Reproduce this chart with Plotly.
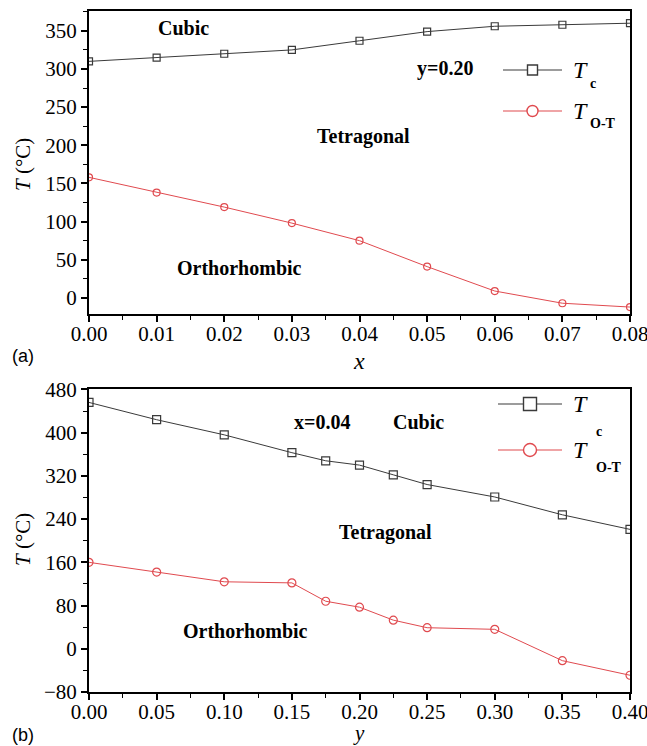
import plotly.graph_objects as go
from plotly.subplots import make_subplots

# Panel (a): transition temperatures vs x at fixed y = 0.20
x_a = [0.00, 0.01, 0.02, 0.03, 0.04, 0.05, 0.06, 0.07, 0.08]
tc_a = [310, 315, 320, 325, 337, 349, 356, 358, 360]
tot_a = [158, 138, 119, 98, 75, 41, 9, -7, -12]

# Panel (b): transition temperatures vs y at fixed x = 0.04
y_b = [0.00, 0.05, 0.10, 0.15, 0.175, 0.20, 0.225, 0.25, 0.30, 0.35, 0.40]
tc_b = [456, 424, 396, 363, 348, 340, 322, 304, 281, 248, 221]
tot_b = [160, 142, 124, 122, 88, 77, 53, 39, 36, -22, -49]

xticks_a = [0.00, 0.01, 0.02, 0.03, 0.04, 0.05, 0.06, 0.07, 0.08]
yticks_a = [0, 50, 100, 150, 200, 250, 300, 350]
xticks_b = [0.00, 0.05, 0.10, 0.15, 0.20, 0.25, 0.30, 0.35, 0.40]
yticks_b = [-80, 0, 80, 160, 240, 320, 400, 480]

BLACK = "#3a3a3a"
RED = "#e04a4f"
SERIF = "Liberation Serif, Times New Roman, serif"
SANS = "Liberation Sans, Arial, sans-serif"

W, H = 647, 746
ML, MR, MT, MB = 89, 17, 11, 54
PW, PH = W - ML - MR, H - MT - MB


def px(X):
    """pixel column -> paper x"""
    return (X - ML) / PW


def py(Y):
    """pixel row -> paper y"""
    return (H - MB - Y) / PH


fig = make_subplots(rows=2, cols=1, vertical_spacing=0.1115)


def add_pair(xs, tc, tot, row, msize):
    fig.add_trace(go.Scatter(
        x=xs, y=tc, mode="lines+markers", name="Tc", showlegend=False,
        line=dict(color=BLACK, width=1),
        marker=dict(symbol="square-open", size=msize, color=BLACK, line=dict(width=1.2))),
        row=row, col=1)
    fig.add_trace(go.Scatter(
        x=xs, y=tot, mode="lines+markers", name="TO-T", showlegend=False,
        line=dict(color=RED, width=1),
        marker=dict(symbol="circle-open", size=msize, color=RED, line=dict(width=1.2))),
        row=row, col=1)


add_pair(x_a, tc_a, tot_a, 1, 7)
add_pair(y_b, tc_b, tot_b, 2, 8)

minor_style = dict(ticks="outside", ticklen=4, tickcolor="black", tickwidth=1.2)
axis_common = dict(
    showline=True, linecolor="black", linewidth=2, mirror=True,
    ticks="outside", ticklen=6, tickwidth=1.5, tickcolor="black",
    showgrid=False, zeroline=False, ticklabeloverflow="allow", automargin=False,
    tickfont=dict(family=SERIF, size=21, color="black"),
)

fig.update_xaxes(axis_common, row=1, col=1, range=[0, 0.08], tickvals=xticks_a,
                 ticktext=[f"{v:.2f}" for v in xticks_a], ticklabelstandoff=-6,
                 minor=dict(minor_style, dtick=0.005))
fig.update_yaxes(axis_common, row=1, col=1, range=[-20.5, 376], tickvals=yticks_a,
                 minor=dict(minor_style, dtick=25, tick0=0))
fig.update_xaxes(axis_common, row=2, col=1, range=[0, 0.40], tickvals=xticks_b,
                 ticktext=[f"{v:.2f}" for v in xticks_b], ticklabelstandoff=-6,
                 minor=dict(minor_style, dtick=0.025))
fig.update_yaxes(axis_common, row=2, col=1, range=[-80, 480], tickvals=yticks_b,
                 minor=dict(minor_style, dtick=40, tick0=0))


def label(text, x, y, xref, yref, size=20, bold=True, family=SERIF, angle=0, xanchor="center"):
    fig.add_annotation(text=f"<b>{text}</b>" if bold else text, x=x, y=y,
                       xref=xref, yref=yref, showarrow=False, textangle=angle,
                       font=dict(family=family, size=size, color="black"),
                       xanchor=xanchor, yanchor="middle")


# phase-region labels, panel (a)
label("Cubic", 0.014, 354, "x", "y")
label("y=0.20", 0.0527, 301, "x", "y")
label("Tetragonal", 0.0406, 212, "x", "y")
label("Orthorhombic", 0.0222, 39.5, "x", "y")
# phase-region labels, panel (b)
label("x=0.04", 0.1726, 419, "x2", "y2")
label("Cubic", 0.2437, 419, "x2", "y2")
label("Tetragonal", 0.219, 216, "x2", "y2")
label("Orthorhombic", 0.1156, 32.7, "x2", "y2")

# axis titles
label("<i>x</i>", px(359), py(361), "paper", "paper", size=24, bold=False)
label("<i>y</i>", px(359), py(733), "paper", "paper", size=21, bold=False)
label("<i>T</i> (°C)", px(23), py(165), "paper", "paper", size=21, bold=False, angle=-90)
label("<i>T</i> (°C)", px(23), py(540), "paper", "paper", size=21, bold=False, angle=-90)

# panel tags
label("(a)", px(23), py(356), "paper", "paper", size=18, bold=False, family=SANS)
label("(b)", px(23), py(735), "paper", "paper", size=18, bold=False, family=SANS)


# legend keys: line, open marker, italic T with a subscript
def legend_key(x0, x1, y, color, symbol, msize, sub, sub_dx, sub_dy):
    fig.add_shape(type="line", xref="paper", yref="paper",
                  x0=px(x0), x1=px(x1), y0=py(y), y1=py(y),
                  line=dict(color=color, width=1.2))
    xm = (x0 + x1) / 2
    half = msize / 2
    fig.add_shape(type=symbol, xref="paper", yref="paper",
                  xsizemode="pixel", ysizemode="pixel",
                  xanchor=px(xm), yanchor=py(y),
                  x0=-half, x1=half, y0=-half, y1=half,
                  fillcolor="white", line=dict(color=color, width=1.4))
    label("<i>T</i>", px(x1 + 9), py(y), "paper", "paper", size=24, bold=False, xanchor="left")
    label(sub, px(x1 + 9 + sub_dx), py(y + sub_dy), "paper", "paper", size=14,
          bold=True, xanchor="left")


legend_key(503, 562, 70, BLACK, "rect", 10, "c", 17, 14)
legend_key(503, 562, 111, RED, "circle", 11, "O-T", 17, 13)
legend_key(498, 562, 404, BLACK, "rect", 13, "c", 23, 27)
legend_key(498, 562, 450, RED, "circle", 13, "O-T", 23, 17)

fig.update_layout(
    width=W, height=H,
    margin=dict(l=ML, r=MR, t=MT, b=MB, autoexpand=False),
    plot_bgcolor="white", paper_bgcolor="white",
    showlegend=False,
)

fig.write_html("out.html")
